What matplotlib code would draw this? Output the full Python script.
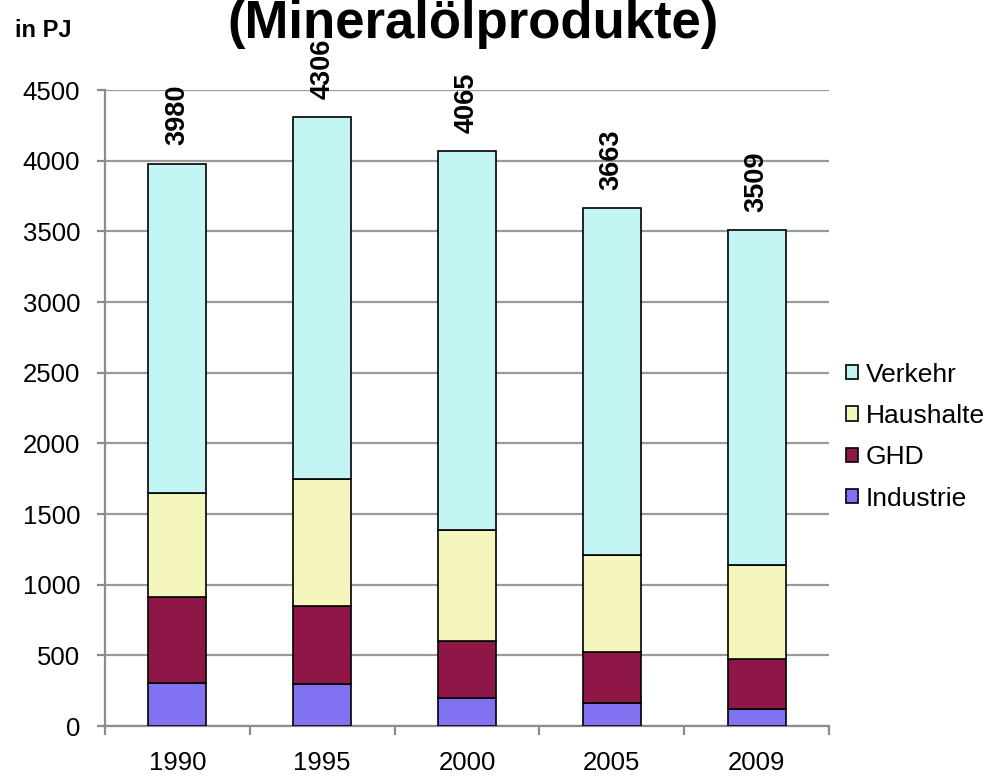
import matplotlib.pyplot as plt
import numpy as np

plt.rcParams['font.family'] = ['Liberation Sans', 'DejaVu Sans']

years = ["1990", "1995", "2000", "2005", "2009"]
industrie = [305, 296, 195, 160, 117]
ghd = [605, 552, 406, 364, 354]
haushalte = [741, 902, 783, 688, 671]
verkehr = [2329, 2556, 2681, 2451, 2367]
totals = [3980, 4306, 4065, 3663, 3509]

series = [("Industrie", industrie, "#8072F0"),
          ("GHD", ghd, "#8E1748"),
          ("Haushalte", haushalte, "#F5F5BE"),
          ("Verkehr", verkehr, "#C4F5F5")]

fig = plt.figure(figsize=(9.89, 7.8), dpi=100)
ax = fig.add_axes([0.1062, 0.0692, 0.732, 0.8154])

x = np.arange(len(years))
bottom = np.zeros(len(years))
handles = []
for name, vals, col in series:
    b = ax.bar(x, vals, 0.4, bottom=bottom, color=col, edgecolor="black",
               linewidth=1.2, label=name, zorder=3)
    handles.append(b)
    bottom += np.array(vals)

# totals above the bars
for xi, t in zip(x, totals):
    ax.annotate(str(t), (xi, t), xytext=(0, 13), textcoords="offset points",
                rotation=90, ha="center", va="bottom", fontsize=19.5,
                fontweight="bold")

ax.set_ylim(0, 4500)
ax.set_xlim(-0.5, len(years) - 0.5)
ax.set_yticks(np.arange(0, 4501, 500))
ax.grid(axis="y", color="#9a9a9a", linewidth=1.6, zorder=0)
ax.set_axisbelow(True)

ax.set_xticks(x)
ax.set_xticklabels(years)
ax.set_xticks(np.arange(-0.5, len(years)), minor=True)
ax.tick_params(axis="x", which="major", length=0, pad=18, labelsize=18.5)
ax.tick_params(axis="x", which="minor", length=6.5, width=1.6, color="#8c8c8c")
ax.tick_params(axis="y", length=6, width=1.6, color="#8c8c8c", labelsize=18.5, pad=12)

for s in ["top", "right"]:
    ax.spines[s].set_visible(False)
for s in ["left", "bottom"]:
    ax.spines[s].set_color("#8c8c8c")
    ax.spines[s].set_linewidth(1.6)

leg = ax.legend(handles[::-1], [s[0] for s in series][::-1],
                loc="center left", bbox_to_anchor=(1.009, 0.455), frameon=False,
                fontsize=19, handlelength=0.45, handleheight=0.45,
                handletextpad=0.3, labelspacing=0.66, borderaxespad=0)

fig.text(0.478, 1 - 38 / 780, "(Mineralölprodukte)", ha="center",
         va="baseline", fontsize=38, fontweight="bold")
fig.text(0.015, 1 - 37 / 780, "in PJ", ha="left", va="baseline",
         fontsize=17, fontweight="bold")

fig.savefig("out.png", dpi=100)
